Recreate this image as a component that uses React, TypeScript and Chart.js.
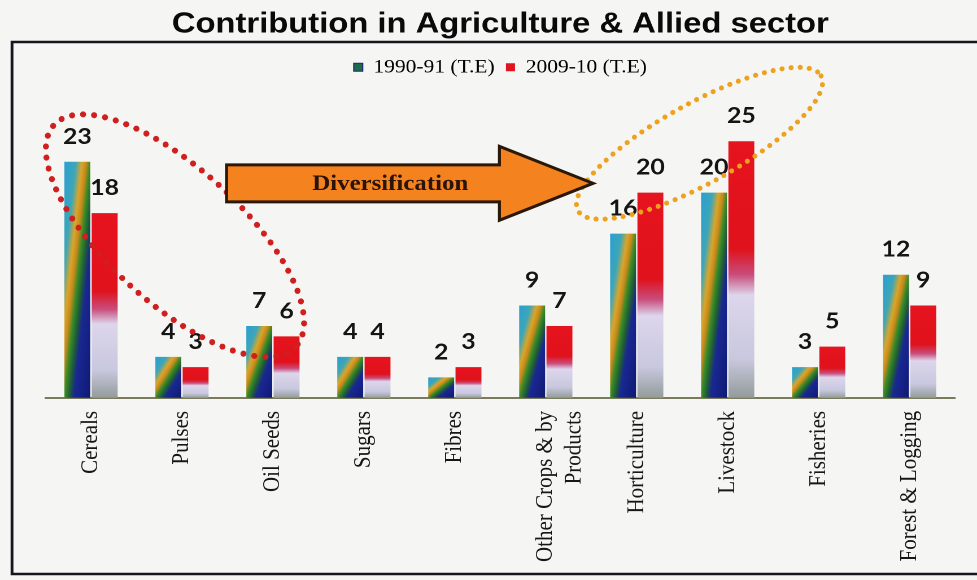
import React, { useEffect, useRef } from 'react';
import { Chart, registerables } from 'chart.js';

Chart.register(...registerables);

// ---- data ----
const categories: (string | string[])[] = [
  'Cereals',
  'Pulses',
  'Oil Seeds',
  'Sugars',
  'Fibres',
  ['Other Crops & by', 'Products'],
  'Horticulture',
  'Livestock',
  'Fisheries',
  'Forest & Logging',
];
const series1990 = [23, 4, 7, 4, 2, 9, 16, 20, 3, 12];
const series2009 = [18, 3, 6, 4, 3, 7, 20, 25, 5, 9];
const seriesLabels = ['1990-91 (T.E)', '2009-10 (T.E)'];
const titleText = 'Contribution in Agriculture & Allied sector';
const arrowText = 'Diversification';
const yMax = 30.3;

// internal canvas is drawn narrower, then stretched horizontally like the reference
const PAGE_W = 977;
const INNER_W = 865;
const H = 580;
const S = PAGE_W / INNER_W;

function blueGradient(ctx: CanvasRenderingContext2D, left: number, top: number, w: number, h: number) {
  const hh = Math.max(h, 1);
  const k = (2 * w * hh) / (hh * hh + w * w);
  const g = ctx.createLinearGradient(left, top, left + k * hh, top + k * w);
  g.addColorStop(0, '#2a9fd2');
  g.addColorStop(0.22, '#3ea6b8');
  g.addColorStop(0.34, '#d9a62a');
  g.addColorStop(0.42, '#c98a1c');
  g.addColorStop(0.5, '#3a8c26');
  g.addColorStop(0.6, '#1e5a3a');
  g.addColorStop(0.68, '#1a2892');
  g.addColorStop(1, '#0f1a74');
  return g;
}

function redGradient(ctx: CanvasRenderingContext2D, top: number, h: number) {
  const g = ctx.createLinearGradient(0, top, 0, top + Math.max(h, 1));
  g.addColorStop(0, '#e6141e');
  g.addColorStop(0.42, '#e0121c');
  g.addColorStop(0.52, '#c94d7c');
  g.addColorStop(0.6, '#ddd6ec');
  g.addColorStop(0.85, '#c8c8de');
  g.addColorStop(1, '#939c9a');
  return g;
}

const backgroundPlugin = {
  id: 'bg',
  beforeDraw(chart: any) {
    const { ctx, width, height } = chart;
    ctx.save();
    ctx.fillStyle = '#f5f5f3';
    ctx.fillRect(0, 0, width, height);
    ctx.restore();
  },
};

const gradientPlugin = {
  id: 'barGradients',
  beforeDatasetsDraw(chart: any) {
    const ctx = chart.ctx as CanvasRenderingContext2D;
    chart.data.datasets.forEach((_: any, di: number) => {
      const meta = chart.getDatasetMeta(di);
      meta.data.forEach((el: any) => {
        const { x, y, base, width } = el.getProps(['x', 'y', 'base', 'width'], true);
        const left = x - width / 2;
        const top = Math.min(y, base);
        const h = Math.abs(base - y);
        const g = di === 0 ? blueGradient(ctx, left, top, width, h) : redGradient(ctx, top, h);
        el.options = Object.assign({}, el.options, { backgroundColor: g });
      });
    });
  },
};

const overlayPlugin = {
  id: 'overlay',
  afterDatasetsDraw(chart: any) {
    const ctx = chart.ctx as CanvasRenderingContext2D;
    const xs = chart.scales.x;
    const ys = chart.scales.y;

    // value labels
    ctx.save();
    ctx.fillStyle = '#141414';
    ctx.font = 'bold 22px Lato, "Open Sans", sans-serif';
    ctx.textAlign = 'center';
    ctx.textBaseline = 'alphabetic';
    chart.data.datasets.forEach((ds: any, di: number) => {
      const meta = chart.getDatasetMeta(di);
      meta.data.forEach((el: any, i: number) => {
        const { x, y } = el.getProps(['x', 'y'], true);
        ctx.fillText(String(ds.data[i]), x, y - 18);
      });
    });
    ctx.restore();

    // shapes in page (stretched) space
    ctx.save();
    ctx.scale(1 / S, 1);
    const X = (idx: number) => xs.getPixelForValue(idx) * S;
    const Y = (v: number) => ys.getPixelForValue(v);

    // red dotted ellipse
    ctx.beginPath();
    ctx.ellipse(X(0.923), Y(15.8), 164, 67, (42.5 * Math.PI) / 180, 0, Math.PI * 2);
    ctx.setLineDash([0.1, 11]);
    ctx.lineCap = 'round';
    ctx.lineWidth = 6;
    ctx.strokeStyle = '#cf1f1f';
    ctx.stroke();

    // orange dotted ellipse
    ctx.beginPath();
    ctx.ellipse(X(6.69), Y(24.8), 139, 40, (-29 * Math.PI) / 180, 0, Math.PI * 2);
    ctx.setLineDash([0.1, 9]);
    ctx.lineWidth = 5;
    ctx.strokeStyle = '#eea11c';
    ctx.stroke();
    ctx.setLineDash([]);

    // arrow
    const xL = X(1.49);
    const xB = X(4.49);
    const xT = X(5.52);
    const yc = Y(20.9);
    const bh = 18.5;
    const hh = 37;
    ctx.beginPath();
    ctx.moveTo(xL, yc - bh);
    ctx.lineTo(xB, yc - bh);
    ctx.lineTo(xB, yc - hh);
    ctx.lineTo(xT, yc);
    ctx.lineTo(xB, yc + hh);
    ctx.lineTo(xB, yc + bh);
    ctx.lineTo(xL, yc + bh);
    ctx.closePath();
    ctx.fillStyle = '#f4821f';
    ctx.fill();
    ctx.lineJoin = 'miter';
    ctx.lineWidth = 3;
    ctx.strokeStyle = '#2a1808';
    ctx.stroke();
    ctx.restore();

    // arrow text (stretched like the rest)
    ctx.save();
    ctx.fillStyle = '#2a1408';
    ctx.font = 'bold 22px "Liberation Serif", "DejaVu Serif", serif';
    ctx.textAlign = 'center';
    ctx.textBaseline = 'middle';
    ctx.fillText(arrowText, xs.getPixelForValue(3.29), ys.getPixelForValue(20.9) + 1);
    ctx.restore();
  },
  afterDraw(chart: any) {
    const ctx = chart.ctx as CanvasRenderingContext2D;
    ctx.save();
    ctx.strokeStyle = '#15151d';
    ctx.lineWidth = 2.5;
    ctx.beginPath();
    ctx.moveTo(chart.width + 5, 42);
    ctx.lineTo(12 / S, 42);
    ctx.lineTo(12 / S, 574);
    ctx.lineTo(chart.width + 5, 574);
    ctx.stroke();
    ctx.restore();
  },
};

export default function App() {
  const canvasRef = useRef<HTMLCanvasElement | null>(null);

  useEffect(() => {
    document.body.style.margin = '0';
    document.body.style.background = '#f5f5f3';
    const canvas = canvasRef.current;
    if (!canvas) return;
    const chart = new Chart(canvas, {
      type: 'bar',
      data: {
        labels: categories,
        datasets: [
          {
            label: seriesLabels[0],
            data: series1990,
            backgroundColor: '#1f5a5a',
            categoryPercentage: 0.6,
            barPercentage: 0.95,
          },
          {
            label: seriesLabels[1],
            data: series2009,
            backgroundColor: '#e0141e',
            categoryPercentage: 0.6,
            barPercentage: 0.95,
          },
        ],
      },
      options: {
        animation: false,
        responsive: true,
        maintainAspectRatio: false,
        devicePixelRatio: 2,
        layout: { padding: { left: 40.3, right: 19.4, top: 5, bottom: 5 } },
        plugins: {
          title: {
            display: true,
            text: titleText,
            color: '#0a0a0a',
            font: { family: '"Liberation Sans", Arial, sans-serif', size: 29, weight: 'bold' },
            padding: { top: 2, bottom: 6 },
          },
          legend: {
            display: true,
            position: 'top',
            labels: {
              color: '#111111',
              font: { family: '"Liberation Serif", "Times New Roman", serif', size: 19 },
              boxWidth: 8,
              boxHeight: 8,
              padding: 10,
              generateLabels: () => [
                { text: seriesLabels[0], fillStyle: '#1f6a48', strokeStyle: '#1a2a80', lineWidth: 1, datasetIndex: 0, hidden: false },
                { text: seriesLabels[1], fillStyle: '#e0141e', strokeStyle: '#e0141e', lineWidth: 0, datasetIndex: 1, hidden: false },
              ],
            },
          },
          tooltip: { enabled: false },
        },
        scales: {
          x: {
            grid: { display: false, drawTicks: false },
            border: { display: true, color: '#7a7a5c', width: 2 },
            ticks: {
              autoSkip: false,
              maxRotation: 90,
              minRotation: 90,
              padding: 13,
              color: '#161616',
              font: { family: '"Liberation Serif", "Times New Roman", serif', size: 21 },
            },
          },
          y: {
            display: false,
            min: 0,
            max: yMax,
          },
        },
      },
      plugins: [backgroundPlugin, gradientPlugin, overlayPlugin],
    });
    return () => chart.destroy();
  }, []);

  return (
    <div
      style={{
        position: 'relative',
        width: INNER_W + 'px',
        height: H + 'px',
        transform: `scaleX(${S})`,
        transformOrigin: '0 0',
      }}
    >
      <canvas ref={canvasRef} />
    </div>
  );
}
